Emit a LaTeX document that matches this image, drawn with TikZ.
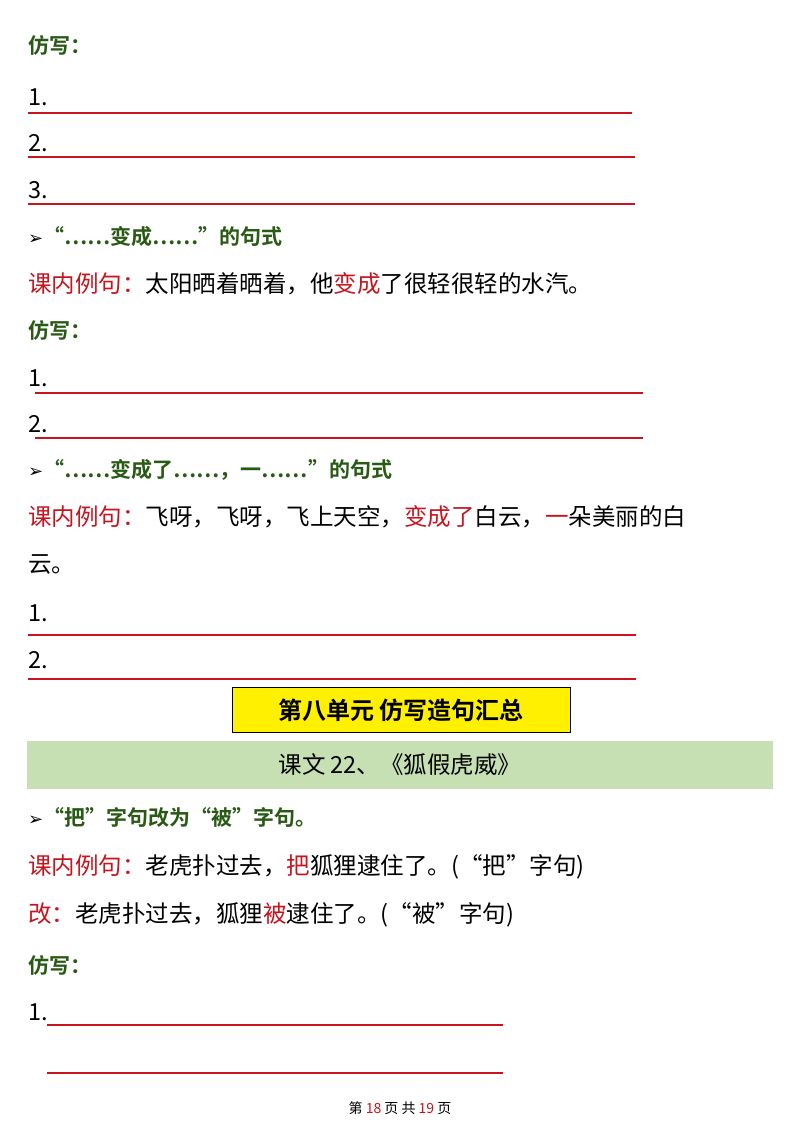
\documentclass[tikz,border=0pt]{standalone}
\usepackage{fontspec}
\setmainfont{Liberation Serif}
\newfontfamily\cjk{Noto Sans CJK SC}
\newfontfamily\cjkb{Noto Sans CJK SC Bold}
\newfontfamily\dejavu{DejaVu Sans}
\definecolor{myred}{RGB}{200,20,30}
\definecolor{mygreen}{RGB}{40,90,20}
\definecolor{band}{RGB}{198,224,180}
\definecolor{ybox}{RGB}{255,240,0}
\begin{document}
\begin{tikzpicture}[x=1pt,y=-1pt,
  txt/.style={anchor=west,inner sep=0pt,font=\cjk\fontsize{23.5}{26}\selectfont},
  hd/.style={anchor=west,inner sep=0pt,font=\cjkb\fontsize{21}{24}\selectfont,text=mygreen},
  ln/.style={myred,line width=1.1pt}]
\useasboundingbox (0,0) rectangle (800,1132);
\fill[white] (0,0) rectangle (800,1132);
\newcommand{\R}[1]{\textcolor{myred}{#1}}
\newcommand{\Arr}{\textcolor{black}{\dejavu\fontsize{18}{20}\selectfont ➢}}
\node[hd] (f1) at (28,45) {仿写：};
\node[txt] (a1) at (28,97) {1.}; \draw[ln] (28,113) -- (632,113);
\node[txt] (a2) at (28,143) {2.}; \draw[ln] (28,157) -- (635,157);
\node[txt] (a3) at (28,190) {3.}; \draw[ln] (28,204) -- (635,204);
\node[hd] (h1) at (28,237) {\Arr“……变成……”的句式};
\node[txt] (e1) at (28,284) {\R{课内例句：}太阳晒着晒着，他\R{变成}了很轻很轻的水汽。};
\node[hd] (f2) at (28,330) {仿写：};
\node[txt] (b1) at (28,378) {1.}; \draw[ln] (35,393) -- (643,393);
\node[txt] (b2) at (28,424) {2.}; \draw[ln] (35,438) -- (643,438);
\node[hd] (h2) at (28,470) {\Arr“……变成了……，一……”的句式};
\node[txt] (e2) at (28,517) {\R{课内例句：}飞呀，飞呀，飞上天空，\R{变成了}白云，\R{一}朵美丽的白};
\node[txt] (e3) at (28,565) {云。};
\node[txt] (c1) at (28,613) {1.}; \draw[ln] (28,635) -- (636,635);
\node[txt] (c2) at (28,660) {2.}; \draw[ln] (28,679) -- (636,679);
\node[draw=black,line width=1pt,fill=ybox,minimum width=338,minimum height=45,inner sep=0pt,font=\cjkb\fontsize{24}{28}\selectfont] (tb) at (401,710) {第八单元\ 仿写造句汇总};
\node[fill=band,minimum width=746,minimum height=48,inner sep=0pt,font=\cjk\fontsize{23.5}{26}\selectfont] (bd) at (400,765) {课文 22、《狐假虎威》};
\node[hd] (h3) at (28,817) {\Arr“把”字句改为“被”字句。};
\node[txt] (e4) at (28,867) {\R{课内例句：}老虎扑过去，\R{把}狐狸逮住了。(“把”字句)};
\node[txt] (e5) at (28,915) {\R{改：}老虎扑过去，狐狸\R{被}逮住了。(“被”字句)};
\node[hd] (f3) at (28,965) {仿写：};
\node[txt] (d1) at (28,1012) {1.}; \draw[ln] (47,1025) -- (503,1025);
\draw[ln] (47,1073) -- (503,1073);
\node[inner sep=0pt,font=\cjk\fontsize{14}{16}\selectfont] (ft) at (400,1108) {第 \R{18} 页 共 \R{19} 页};
\end{tikzpicture}
\end{document}
